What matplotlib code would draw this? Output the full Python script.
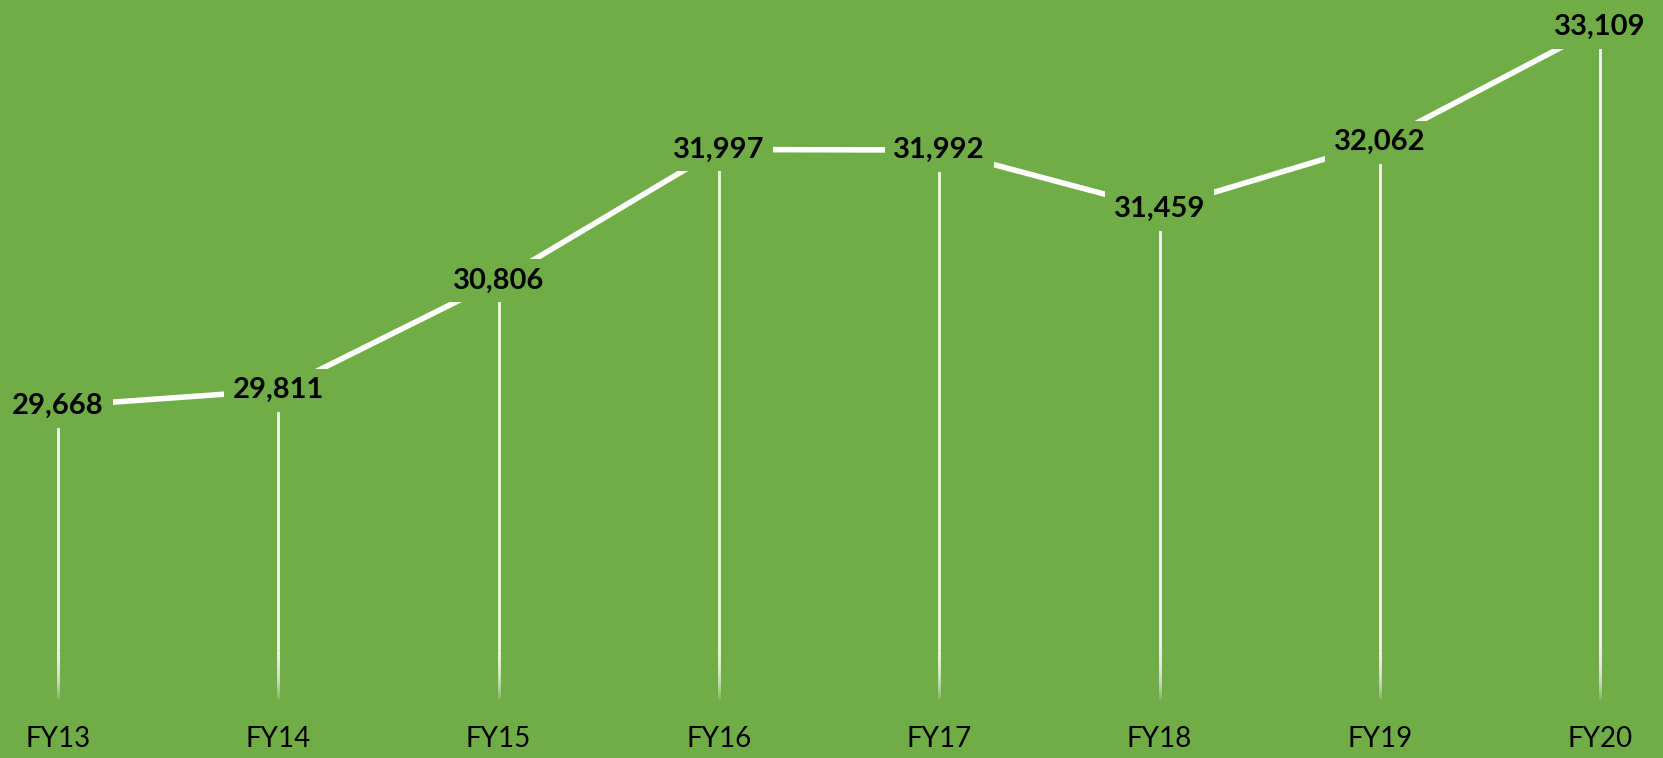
import numpy as np
import matplotlib.pyplot as plt

years  = ["FY13", "FY14", "FY15", "FY16", "FY17", "FY18", "FY19", "FY20"]
values = [29668, 29811, 30806, 31997, 31992, 31459, 32062, 33109]

bg = "#70AD47"
ymin, ymax = 27000, 33354

fig = plt.figure(figsize=(16.63, 7.58), dpi=100, facecolor=bg)
ax = fig.add_axes([0, 58 / 758, 1, 700 / 758])
ax.set_facecolor(bg)
x = np.arange(len(years))

# main line
ax.plot(x, values, color="white", lw=4, solid_capstyle="butt", zorder=2)

# drop lines: solid upper part, stacked translucent lines fade out at the bottom
fade = 450.0
ax.vlines(x, ymin + fade, values, colors="white", lw=2, alpha=0.9, zorder=1)
for k in range(30):
    ax.vlines(x, ymin + k * fade / 30, ymin + fade, colors="white",
              lw=2, alpha=0.08, zorder=1)

for xi, v in zip(x, values):
    ax.text(xi, v, f"{v:,}", ha="center", va="center", fontsize=21,
            fontfamily="Lato", fontweight="bold", color="black", zorder=3,
            bbox=dict(boxstyle="square,pad=0.3", fc=bg, ec="none"))

ax.set_xlim(-58 / 220.3, (1663 - 58) / 220.3)
ax.set_ylim(ymin, ymax)
ax.set_xticks(x)
ax.set_xticklabels(years, fontsize=20, fontfamily="Lato")
ax.tick_params(length=0, pad=19, colors="black")
ax.set_yticks([])
for s in ax.spines.values():
    s.set_visible(False)

fig.savefig("out.png", dpi=100, facecolor=bg)
